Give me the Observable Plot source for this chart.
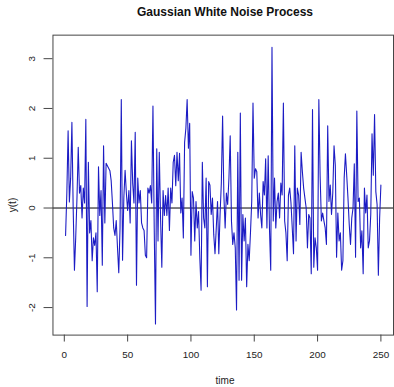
<!DOCTYPE html>
<html><head><meta charset="utf-8">
<script src="https://cdn.jsdelivr.net/npm/d3@7"></script>
<script src="https://cdn.jsdelivr.net/npm/@observablehq/plot@0.6"></script>
<style>
html,body{margin:0;padding:0;background:#fff;overflow:hidden;}
#wrap{position:relative;width:394px;height:387px;overflow:hidden;font-family:"Liberation Sans",Arial,sans-serif;}
#chart{position:absolute;left:0;top:0;}
#title{position:absolute;left:53px;width:344px;top:5px;text-align:center;font-weight:bold;font-size:12px;color:#111;}
#ylab{position:absolute;left:12px;top:205px;transform:translate(-50%,-50%) rotate(-90deg);font-size:10px;color:#222;white-space:nowrap;}
#xlab{position:absolute;left:53px;width:344px;top:375px;text-align:center;font-size:10px;color:#222;}
</style>
</head><body>
<div id="wrap">
<div id="chart"></div>
<div id="title">Gaussian White Noise Process</div>
<div id="ylab">y(t)</div>
<div id="xlab">time</div>
</div>
<script>
// y(t) values for time = 1..250
const values = [
 -0.55, 0.30, 1.55, 0.12, 0.60, 1.72, 0.00, -1.25, -0.60, 0.20,
 1.22, 0.30, 0.45, -0.20, 0.40, 0.10, 1.78, -1.98, 0.92, -0.50,
 -0.25, -1.06, -0.60, -0.75, -0.50, -1.68, 0.83, -0.15, 0.35, -1.15,
 1.25, -0.30, 0.90, 0.85, 0.80, 0.75, 0.55, 0.10, -0.40, -0.55,
 -0.25, -0.80, -1.30, -0.40, 2.18, -1.05, 0.20, 0.76, 0.30, -0.05,
 0.35, -0.30, 1.35, 0.50, 0.10, 1.52, -1.55, 0.60, 0.10, 0.35,
 -0.30, -0.40, -0.45, -0.95, -1.00, 0.40, 0.30, 0.45, 0.10, 2.05,
 -0.40, -2.33, 1.19, -0.66, 1.12, -0.20, -1.19, 0.35, -0.15, 0.25,
 -0.15, 0.40, -0.45, 0.40, 0.10, 0.92, 1.06, 0.45, 1.12, 0.55,
 1.10, -0.10, 0.20, -0.60, 1.32, 1.60, 2.18, 1.20, 1.70, -0.95,
 0.33, 0.20, -0.66, 0.13, -0.40, -0.07, -1.00, -1.65, 0.92, -0.20,
 -0.40, 0.60, -1.58, 0.53, 0.46, -0.13, 0.20, -0.53, -0.92, -0.40,
 0.13, -0.92, -0.13, 0.50, 1.85, 0.26, -0.40, 0.30, 0.07, 0.60,
 1.45, -0.26, -0.73, -0.50, -0.80, -2.05, 1.12, -1.45, 1.91, -1.45,
 -0.13, -0.66, -0.20, -1.58, -0.73, -1.06, -0.50, 0.13, 2.11, 0.60,
 0.79, 0.73, -0.20, 0.30, -0.13, -0.40, 0.53, 0.26, 0.99, -0.40,
 1.05, -0.40, -1.25, 3.23, -0.26, 0.60, -0.40, 0.13, 0.30, -0.20,
 0.50, 0.26, 2.11, -0.26, -0.50, -1.06, 0.26, 0.40, 0.10, -0.40,
 -0.92, 1.25, -0.66, 0.40, 0.26, -0.33, 1.12, 0.73, 0.40, 0.20,
 0.00, -0.80, -0.13, -0.20, -1.32, 1.98, -1.19, -0.60, -0.80, -1.25,
 2.18, 0.66, -0.26, -0.10, -0.26, -0.40, -0.73, 1.65, 0.13, 0.46,
 -0.13, 0.30, 1.25, 0.86, -0.99, -0.10, -0.66, -0.50, -1.25, -1.06,
 0.60, 1.09, 0.66, 0.20, -0.33, -0.73, -0.20, 0.00, 0.89, -0.99,
 1.95, 0.13, 0.20, -0.80, -0.46, -1.32, 0.40, -0.10, 0.26, -0.80,
 -0.66, -0.13, 1.49, 0.66, 1.88, 0.33, 0.07, -1.35, -0.20, 0.46
];
const xTicks = [0, 50, 100, 150, 200, 250];
const yTicks = [-2, -1, 0, 1, 2, 3];
const data = values.map((v, i) => ({time: i + 1, y: v}));
const fmt = d => String(d);

const chart = Plot.plot({
  width: 398,
  height: 387,
  marginLeft: 53,
  marginRight: 1,
  marginTop: 35,
  marginBottom: 49,
  style: {fontFamily: "'Liberation Sans', Arial, sans-serif", fontSize: "10px", color: "#222", background: "#fff"},
  x: {domain: [-8.96, 259.96]},
  y: {domain: [-2.553, 3.473]},
  marks: [
    Plot.ruleY([0], {stroke: "#000", strokeWidth: 1}),
    Plot.line(data, {x: "time", y: "y", stroke: "#1c1cc4", strokeWidth: 1.1}),
    Plot.frame({stroke: "#444"}),
    Plot.axisX(xTicks, {tickSize: 7, tickPadding: 9, tickFormat: fmt, label: null, stroke: "#444"}),
    Plot.axisY(yTicks, {tickSize: 9, tickPadding: 9, tickRotate: -90, tickFormat: fmt, label: null, stroke: "#444"})
  ]
});
document.getElementById("chart").appendChild(chart);
</script>
</body></html>
